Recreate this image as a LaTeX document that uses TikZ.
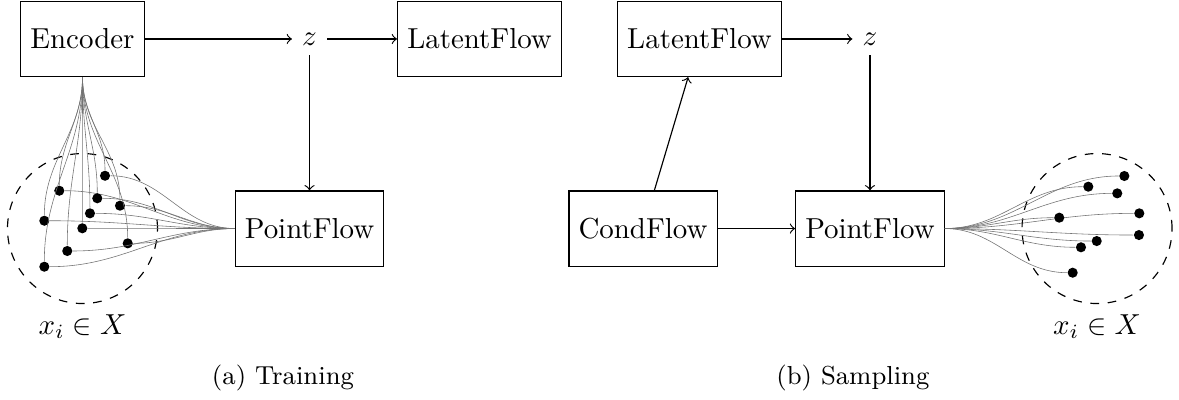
\documentclass[tikz,border=0pt]{standalone}
\usepackage{amsmath}
\usepackage{tikz}
\usetikzlibrary{calc,positioning,arrows}

\begin{document}
\begin{tikzpicture}[blk/.style={draw, minimum height=26pt}, pt/.style={circle, fill, inner sep=0pt, minimum size=3.5pt}, strand/.style={very thin, black!55}, cloud/.style={draw, dashed, circle, minimum size=1.824cm}]
\useasboundingbox (0,0) rectangle (14.337,-4.852);
% (a) training
\node[blk] (enc) at (1.003,-0.474) {Encoder};
\node (z1) at (3.764,-0.474) {$z$};
\node[blk] (lf1) at (5.831,-0.474) {LatentFlow};
\node[blk] (pf1) at (3.764,-2.779) {PointFlow};
\node[cloud] (c1) at (1.003,-2.779) {};
\node[below=0pt of c1] (x1) {$x_i \in X$};
\foreach \dx/\dy [count=\i] in {0.274/0.642, -0.282/0.460, 0.180/0.368, 0.456/0.278, 0.091/0.185, -0.464/0.095, -0.002/0.003, 0.550/-0.180, -0.185/-0.273, -0.464/-0.464}{
	\node[pt] (a\i) at ($(c1)+(\dx,\dy)$) {};
	\draw[strand] (enc.south) to [out=270, in=90] (a\i);
	\draw[strand] (a\i) to [out=0, in=180] (pf1.west);}
\draw[->] (enc) -- (z1);
\draw[->] (z1) -- (lf1);
\draw[->] (z1) -- (pf1);
\node[font=\small] (capa) at (3.441,-4.596) {(a) Training};
% (b) sampling
\node[blk] (lf2) at (8.506,-0.474) {LatentFlow};
\node (z2) at (10.579,-0.474) {$z$};
\node[blk] (cf) at (7.819,-2.779) {CondFlow};
\node[blk] (pf2) at (10.579,-2.779) {PointFlow};
\node[cloud] (c2) at (13.340,-2.779) {};
\node[below=0pt of c2] (x2) {$x_i \in X$};
\foreach \dx/\dy [count=\i] in {0.332/0.639, -0.106/0.509, 0.246/0.428, 0.514/0.185, -0.459/0.132, 0.510/-0.079, -0.004/-0.152, -0.195/-0.228, -0.296/-0.537}{
	\node[pt] (b\i) at ($(c2)+(\dx,\dy)$) {};
	\draw[strand] (pf2.east) to [out=0, in=180] (b\i);}
\draw[->] (lf2) -- (z2);
\draw[->] (z2) -- (pf2);
\draw[->] (cf) -- (lf2);
\draw[->] (cf) -- (pf2);
\node[font=\small] (capb) at (10.372,-4.596) {(b) Sampling};

\end{tikzpicture}
\end{document}
